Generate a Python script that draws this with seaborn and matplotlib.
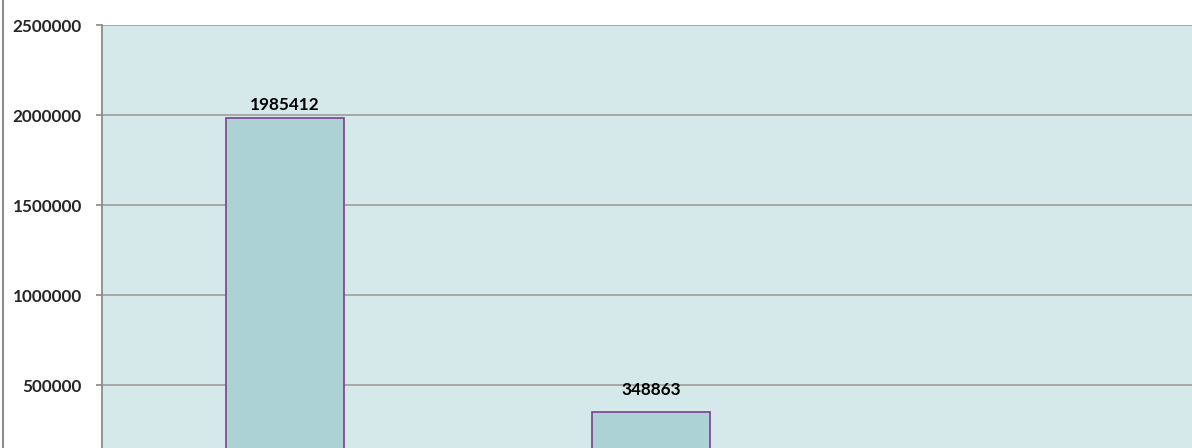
import matplotlib
matplotlib.use("Agg")
import matplotlib.pyplot as plt
from matplotlib.lines import Line2D
import seaborn as sns
import pandas as pd

categories = ["Type 1", "Type 2", "Type 3"]
label_values = [1985412, 348863]
y_ticks = [500000, 1000000, 1500000, 2000000, 2500000]

sns.set_theme(style="white")
plt.rcParams["font.family"] = ["Lato", "DejaVu Sans"]

fig = plt.figure(figsize=(11.92, 4.48), dpi=100)
ax = fig.add_axes([102 / 1192, 1 - 475 / 448, (1200 - 102) / 1192, 450 / 448])
ax.set_facecolor("#D5E8EA")

df = pd.DataFrame({"cat": categories[:2], "val": label_values})
sns.barplot(data=df, x="cat", y="val", order=categories, color="#ACD2D4",
            saturation=1, edgecolor="#7E3F8F", linewidth=1.2, width=0.32, ax=ax)
for p in ax.patches:
    p.set_facecolor("#ACD2D4")

ax.set_xlim(-0.5, 2.5)
ax.set_ylim(0, 2500000)
ax.set_yticks(y_ticks)
ax.set_yticklabels([str(t) for t in y_ticks], fontsize=12.3, fontweight="bold")
ax.set_xticklabels([])
ax.yaxis.grid(True, color="#A3A3A3", linewidth=1.3)
ax.set_axisbelow(True)
ax.tick_params(axis="y", left=True, length=4.5, width=1.2, color="#888888", pad=10)
ax.tick_params(axis="x", bottom=False)
ax.set_xlabel("")
ax.set_ylabel("")
for s in ["top", "right", "bottom"]:
    ax.spines[s].set_visible(False)
ax.spines["left"].set_color("#8C8C8C")
ax.spines["left"].set_linewidth(1.3)

for i, v in enumerate(label_values):
    ax.annotate(str(v), (i, v), xytext=(0, 3 if i == 0 else 10), textcoords="offset points",
                ha="center", va="bottom", fontsize=12.3, fontweight="bold", color="black")

fig.add_artist(Line2D([2.5 / 1192, 2.5 / 1192], [0, 1], transform=fig.transFigure,
                      color="#8C8C8C", linewidth=1.5))

fig.savefig("out.png", dpi=100)
